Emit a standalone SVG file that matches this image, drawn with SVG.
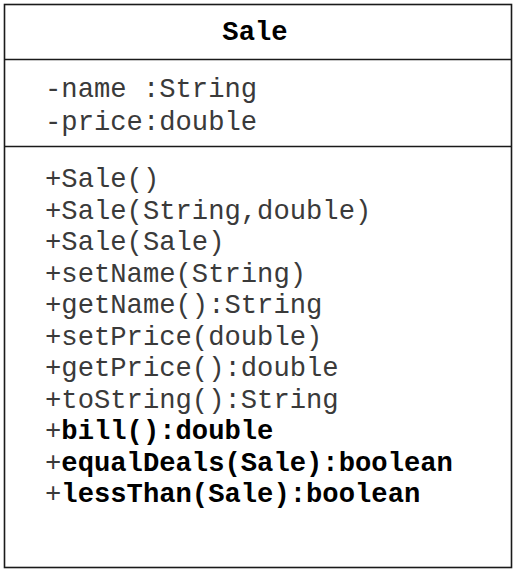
<svg xmlns="http://www.w3.org/2000/svg" width="514" height="573" viewBox="0 0 514 573">
<style>
.box{fill:#fff;stroke:#1a1a1a;stroke-width:1.6}
.div{stroke:#1a1a1a;stroke-width:1.6}
text{font-family:"Liberation Mono","Courier New",monospace;font-size:27.2px;fill:#3a3a3a}
.b{font-weight:bold;fill:#000}
</style>
<rect width="514" height="573" fill="#fff"/>
<g id="Sale">
<rect class="box" x="4.5" y="4.5" width="507" height="563"/>
<line class="div" x1="4.5" y1="59.5" x2="511.5" y2="59.5"/>
<line class="div" x1="4.5" y1="146.5" x2="511.5" y2="146.5"/>
<text class="b" x="255" y="40" text-anchor="middle">Sale</text>
<text x="45" y="97">-name :String</text>
<text x="45" y="130">-price:double</text>
<text x="45" y="187">+Sale()</text>
<text x="45" y="218.5">+Sale(String,double)</text>
<text x="45" y="250">+Sale(Sale)</text>
<text x="45" y="281.5">+setName(String)</text>
<text x="45" y="313">+getName():String</text>
<text x="45" y="344.5">+setPrice(double)</text>
<text x="45" y="376">+getPrice():double</text>
<text x="45" y="407.5">+toString():String</text>
<text x="45" y="439">+<tspan class="b">bill():double</tspan></text>
<text x="45" y="470.5">+<tspan class="b">equalDeals(Sale):boolean</tspan></text>
<text x="45" y="502">+<tspan class="b">lessThan(Sale):boolean</tspan></text>
</g>
</svg>
